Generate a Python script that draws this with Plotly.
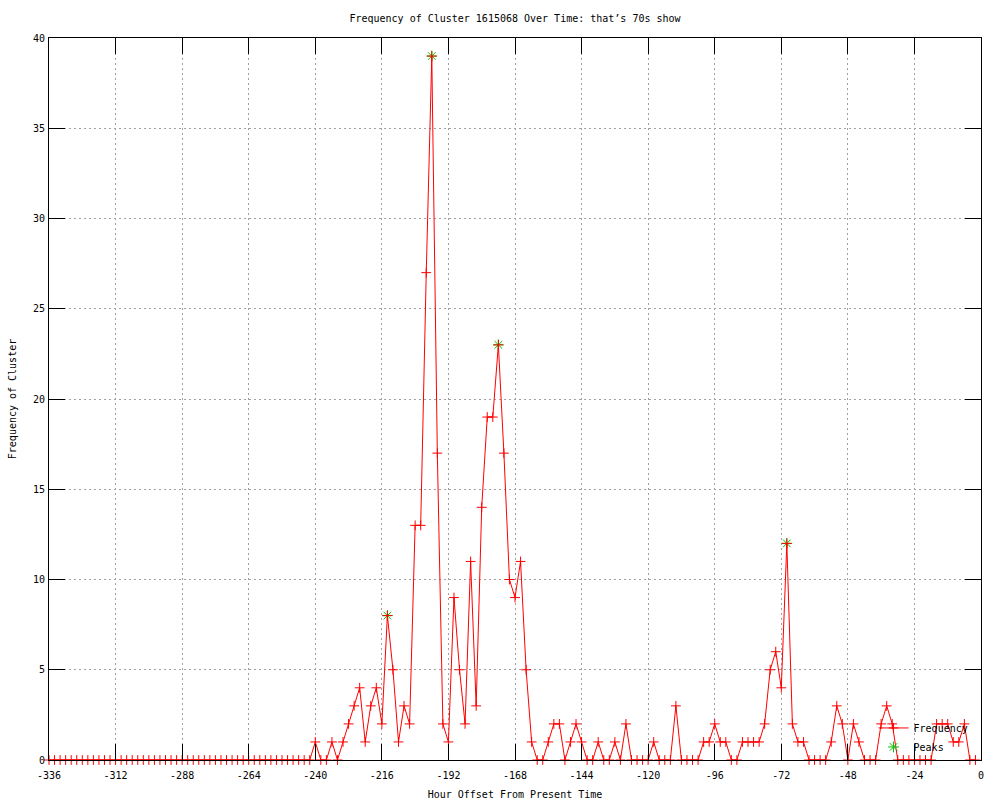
import plotly.graph_objects as go

# ---- data ----
hours = list(range(-336, 0, 2))  # -336 .. -2 every 2 hours

freq_tail = [
    # -240 .. -2
    1, 0, 0, 1, 0, 1, 2, 3, 4, 1, 3, 4, 2, 8, 5, 1, 3, 2, 13, 13,
    27, 39, 17, 2, 1, 9, 5, 2, 11, 3, 14, 19, 19, 23, 17, 10, 9, 11, 5, 1,
    0, 0, 1, 2, 2, 0, 1, 2, 1, 0, 0, 1, 0, 0, 1, 0, 2, 0, 0, 0,
    0, 1, 0, 0, 0, 3, 0, 0, 0, 0, 1, 1, 2, 1, 1, 0, 0, 1, 1, 1,
    1, 2, 5, 6, 4, 12, 2, 1, 1, 0, 0, 0, 0, 1, 3, 2, 0, 2, 1, 0,
    0, 0, 2, 3, 2, 0, 0, 0, 0, 0, 0, 0, 2, 2, 2, 1, 1, 2, 0, 0,
]
frequency = [0] * (len(hours) - len(freq_tail)) + freq_tail

peak_hours = [-214, -198, -174, -70]
peak_values = [8, 39, 23, 12]

x_ticks = list(range(-336, 1, 24))
y_ticks = list(range(0, 41, 5))

title_text = "Frequency of Cluster 1615068 Over Time: that\u2019s 70s show"
x_title = "Hour Offset From Present Time"
y_title = "Frequency of Cluster"

FONT = "DejaVu Sans Mono"
FS = 10

fig = go.Figure()

fig.add_trace(go.Scatter(
    x=peak_hours, y=peak_values, name="Peaks", mode="markers",
    marker=dict(symbol="asterisk-open", size=9, color="#00c000",
                line=dict(color="#00c000", width=1)),
    cliponaxis=False, legendrank=2,
))

fig.add_trace(go.Scatter(
    x=hours, y=frequency, name="Frequency", mode="lines+markers",
    line=dict(color="#ff0000", width=1),
    marker=dict(symbol="cross-thin-open", size=7, color="#ff0000",
                line=dict(color="#ff0000", width=1)),
    cliponaxis=False, legendrank=1,
))

axis_common = dict(
    showline=True, linecolor="black", linewidth=1, mirror="ticks",
    ticks="inside", ticklen=16, tickcolor="black", tickwidth=1,
    showgrid=True, gridcolor="#a0a0a0", gridwidth=1, griddash="2px,3px",
    zeroline=False, automargin=False,
    tickfont=dict(family=FONT, size=FS, color="black"),
)

fig.update_xaxes(
    range=[-336, 0], tickvals=x_ticks, ticktext=[str(v) for v in x_ticks],
    ticklabelstandoff=6,
    title=dict(text=x_title, font=dict(family=FONT, size=FS, color="black"), standoff=10),
    **axis_common,
)
fig.update_yaxes(
    range=[0, 40], tickvals=y_ticks, ticktext=[str(v) for v in y_ticks],
    ticklabelstandoff=1,
    title=dict(text=y_title, font=dict(family=FONT, size=FS, color="black"), standoff=14),
    **axis_common,
)

fig.update_layout(
    width=1000, height=800,
    margin=dict(l=49, r=19, t=38, b=40),
    paper_bgcolor="white", plot_bgcolor="white",
    font=dict(family=FONT, size=FS, color="black"),
    title=dict(text=title_text, x=0.515, xanchor="center", y=1 - 18 / 800,
               yanchor="middle", font=dict(family=FONT, size=FS, color="black")),
    legend=dict(x=0.992, xanchor="right", y=-0.002, yanchor="bottom",
                bgcolor="rgba(0,0,0,0)", font=dict(family=FONT, size=FS),
                tracegroupgap=0, itemwidth=30),
    showlegend=True,
)

fig.write_html("out.html", config={"displayModeBar": False},
               post_script="document.body.style.margin='0';")
